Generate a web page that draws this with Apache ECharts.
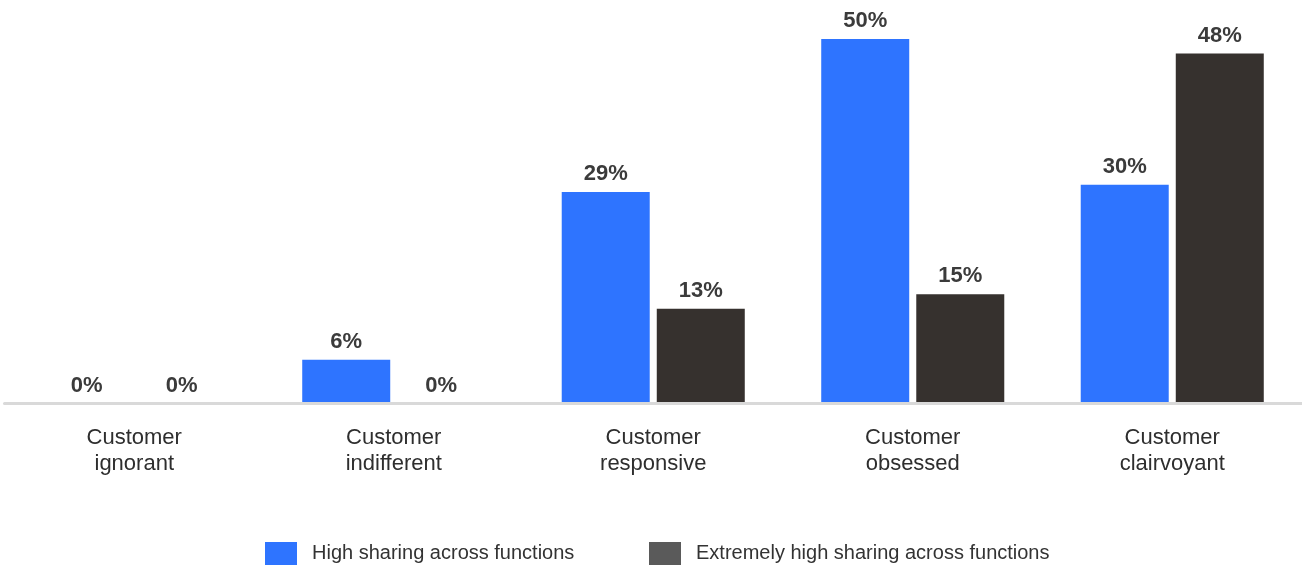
<!DOCTYPE html>
<html>
<head>
<meta charset="utf-8">
<style>
  html, body { margin: 0; padding: 0; background: #ffffff; }
  #chart { width: 1302px; height: 565px; }
</style>
<script src="https://cdn.jsdelivr.net/npm/echarts@6/dist/echarts.min.js"></script>
</head>
<body>
<div id="chart"></div>
<script>
// Share of organisations by customer-centricity segment
const categories = [
  'Customer\nignorant',
  'Customer\nindifferent',
  'Customer\nresponsive',
  'Customer\nobsessed',
  'Customer\nclairvoyant'
];
const highSharing = [0, 6, 29, 50, 30];
const extremelyHighSharing = [0, 0, 13, 15, 48];
const seriesNames = ['High sharing across functions', 'Extremely high sharing across functions'];

const BLUE = '#2e74ff';
const DARK = '#36312e';
const FONT = '"Liberation Sans", Arial, sans-serif';

const barLabel = {
  show: true,
  position: 'top',
  distance: 7,
  formatter: '{c}%',
  color: '#3b3b3b',
  fontFamily: FONT,
  fontWeight: 'bold',
  fontSize: 22
};

const legendText = { color: '#333333', fontFamily: FONT, fontSize: 20, padding: [0, 0, 0, 10] };

const chart = echarts.init(document.getElementById('chart'), null, { renderer: 'canvas' });

chart.setOption({
  animation: false,
  backgroundColor: '#ffffff',
  grid: { left: 4.5, width: 1300, top: 39, bottom: 161.5, containLabel: false },
  xAxis: {
    type: 'category',
    data: categories,
    z: 5,
    axisLine: { show: true, lineStyle: { color: '#d9d9d9', width: 3 } },
    axisTick: { show: false },
    axisLabel: {
      margin: 21,
      color: '#2e2e2e',
      fontFamily: FONT,
      fontSize: 22,
      lineHeight: 26,
      interval: 0
    }
  },
  yAxis: {
    type: 'value',
    min: 0,
    max: 50,
    show: false,
    splitLine: { show: false }
  },
  legend: [
    {
      left: 265,
      top: 542,
      padding: 0,
      itemWidth: 32,
      itemHeight: 23,
      icon: 'rect',
      textStyle: legendText,
      data: [{ name: seriesNames[0], itemStyle: { color: BLUE } }]
    },
    {
      left: 649,
      top: 542,
      padding: 0,
      itemWidth: 32,
      itemHeight: 23,
      icon: 'rect',
      textStyle: legendText,
      data: [{ name: seriesNames[1], itemStyle: { color: '#5a5a5a' } }]
    }
  ],
  series: [
    {
      name: seriesNames[0],
      type: 'bar',
      data: highSharing,
      barWidth: 88,
      barGap: '8%',
      itemStyle: { color: BLUE },
      label: barLabel
    },
    {
      name: seriesNames[1],
      type: 'bar',
      data: extremelyHighSharing,
      barWidth: 88,
      barGap: '8%',
      itemStyle: { color: DARK },
      label: barLabel
    }
  ]
});
</script>
</body>
</html>
